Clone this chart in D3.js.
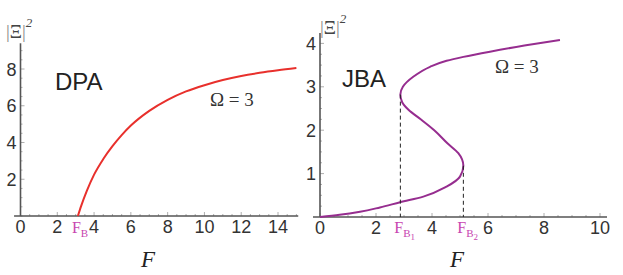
<!DOCTYPE html>
<html>
<head>
<meta charset="utf-8">
<script src="https://cdn.jsdelivr.net/npm/d3@7/dist/d3.min.js"></script>
<style>
  html, body { margin: 0; padding: 0; background: #fff; }
  svg { display: block; }
  .tick-label { font-family: "Liberation Sans", Arial, sans-serif; font-size: 18px; fill: #333; }
  .serif { font-family: "Liberation Serif", "Times New Roman", serif; }
</style>
</head>
<body>
<svg id="chart"></svg>
<script>
// ─── Data ─────────────────────────────────────────────────────────────────────
// DPA response curve: F vs |Ξ|²
const dpaF  = [3.12, 3.3, 3.6, 4.0, 4.5, 5.0, 5.5, 6.0, 7.0, 8.0, 9.0, 10, 11, 12, 13, 14, 15];
const dpaXi = [0, 0.55, 1.35, 2.25, 3.1, 3.8, 4.4, 4.92, 5.72, 6.32, 6.78, 7.12, 7.4, 7.62, 7.79, 7.93, 8.05];

// JBA response curve (S-shaped); F read at increasing |Ξ|²
const jbaXi = [0, 0.05, 0.12, 0.22, 0.34, 0.47, 0.70, 0.93, 1.18, 1.47, 1.70, 2.0,
               2.24, 2.47, 2.65, 2.82, 3.0, 3.23, 3.46, 3.60, 3.69, 3.81, 3.95, 4.08];
const jbaF  = [0, 0.7, 1.43, 2.14, 2.86, 3.69, 4.52, 5.0, 5.12, 4.94, 4.55, 4.08,
               3.62, 3.16, 2.93, 2.87, 2.96, 3.33, 3.93, 4.52, 5.12, 6.07, 7.3, 8.57];

// Bifurcation points
const dpaFB = 3.12;
const jbaFB1 = [2.87, 2.82];
const jbaFB2 = [5.12, 1.18];

// Tick values
const dpaXTicks = [0, 2, 4, 6, 8, 10, 12, 14];
const dpaYTicks = [2, 4, 6, 8];
const jbaXTicks = [0, 2, 4, 6, 8, 10];
const jbaYTicks = [1, 2, 3, 4];

// ─── Setup ────────────────────────────────────────────────────────────────────
const W = 623, H = 275;
const svg = d3.select("#chart").attr("width", W).attr("height", H);

const panels = [
  {
    x: d3.scaleLinear().domain([0, 14]).range([20.5, 278]),
    y: d3.scaleLinear().domain([0, 8]).range([216, 69]),
    xExtent: [-0.35, 15.1], yTop: 9.4,
    xTicks: dpaXTicks, yTicks: dpaYTicks, minorX: 0.5, minorY: 0.5,
    pts: dpaF.map((f, i) => [f, dpaXi[i]]), curve: d3.curveMonotoneX,
    color: "#e8302c",
    name: "DPA", nameAt: [55, 90], omegaAt: [210, 106],
    yLabelAt: [6, 38], fLabelX: 148
  },
  {
    x: d3.scaleLinear().domain([0, 10]).range([320, 600]),
    y: d3.scaleLinear().domain([0, 4]).range([217, 43.4]),
    xExtent: [-0.25, 10.25], yTop: 4.24,
    xTicks: jbaXTicks, yTicks: jbaYTicks, minorX: 0.5, minorY: 0.25,
    pts: jbaF.map((f, i) => [f, jbaXi[i]]), curve: d3.curveMonotoneY,
    color: "#962d8f",
    name: "JBA", nameAt: [342, 87], omegaAt: [495, 73],
    yLabelAt: [320, 34], fLabelX: 457
  }
];

const magenta = "#c845b0";

function drawPanel(p) {
  const g = svg.append("g");
  const x0 = p.x(0), y0 = p.y(0);

  // minor / major ticks pointing inward
  const ticksG = g.append("g").attr("stroke", "#999").attr("stroke-width", 0.8);
  d3.range(0, p.xExtent[1], p.minorX).forEach(v => {
    const major = p.xTicks.includes(v);
    ticksG.append("line")
      .attr("x1", p.x(v)).attr("x2", p.x(v))
      .attr("y1", y0).attr("y2", y0 - (major ? 4 : 2));
  });
  d3.range(0, p.yTop, p.minorY).forEach(v => {
    const major = p.yTicks.includes(v);
    ticksG.append("line")
      .attr("x1", x0).attr("x2", x0 + (major ? 4 : 2))
      .attr("y1", p.y(v)).attr("y2", p.y(v));
  });

  // axes lines
  g.append("line")
    .attr("x1", p.x(p.xExtent[0])).attr("x2", p.x(p.xExtent[1]))
    .attr("y1", y0).attr("y2", y0)
    .attr("stroke", "#555").attr("stroke-width", 1.6);
  g.append("line")
    .attr("x1", x0).attr("x2", x0)
    .attr("y1", y0).attr("y2", p.y(p.yTop))
    .attr("stroke", "#555").attr("stroke-width", 1.6);

  // tick labels
  g.selectAll("text.xt").data(p.xTicks).join("text")
    .attr("class", "tick-label xt")
    .attr("x", d => p.x(d)).attr("y", y0 + 17)
    .attr("text-anchor", "middle")
    .text(d => d);
  g.selectAll("text.yt").data(p.yTicks).join("text")
    .attr("class", "tick-label yt")
    .attr("x", x0 - 4).attr("y", d => p.y(d) + 6.5)
    .attr("text-anchor", "end")
    .text(d => d);

  // curve
  g.append("path")
    .attr("d", d3.line().x(d => p.x(d[0])).y(d => p.y(d[1])).curve(p.curve)(p.pts))
    .attr("fill", "none")
    .attr("stroke", p.color)
    .attr("stroke-width", 2);

  // panel name
  g.append("text")
    .attr("x", p.nameAt[0]).attr("y", p.nameAt[1])
    .attr("font-family", "Liberation Sans, Arial, sans-serif")
    .attr("font-size", 24).attr("fill", "#222")
    .text(p.name);

  // Ω = 3
  g.append("text").attr("class", "serif")
    .attr("x", p.omegaAt[0]).attr("y", p.omegaAt[1])
    .attr("font-size", 19).attr("fill", "#333")
    .text("Ω = 3");

  // |Ξ|² label
  const yl = g.append("text").attr("class", "serif")
    .attr("x", p.yLabelAt[0]).attr("y", p.yLabelAt[1])
    .attr("font-size", 19).attr("fill", "#444");
  yl.append("tspan").attr("fill", "#888").text("|");
  yl.append("tspan").text("Ξ");
  yl.append("tspan").attr("fill", "#888").text("|");
  yl.append("tspan").attr("dy", -11).attr("font-size", 13)
    .attr("font-style", "italic").text("2");

  // F axis label
  g.append("text").attr("class", "serif")
    .attr("x", p.fLabelX).attr("y", 267)
    .attr("text-anchor", "middle")
    .attr("font-size", 23).attr("font-style", "italic").attr("fill", "#222")
    .text("F");

  return g;
}

function bifLabel(g, px, py, sub) {
  const t = g.append("text").attr("class", "serif")
    .attr("x", px - 6).attr("y", py)
    .attr("font-size", 16).attr("fill", magenta);
  t.append("tspan").text("F");
  t.append("tspan").attr("dy", 4).attr("font-size", 11).text("B");
  if (sub) t.append("tspan").attr("dy", 3).attr("font-size", 9).text(sub);
}

const gL = drawPanel(panels[0]);
const gR = drawPanel(panels[1]);

// DPA bifurcation label
bifLabel(gL, panels[0].x(dpaFB), 233, null);

// JBA dashed lines + labels
[[jbaFB1, "1"], [jbaFB2, "2"]].forEach(([pt, s]) => {
  const p = panels[1];
  gR.append("line")
    .attr("x1", p.x(pt[0])).attr("x2", p.x(pt[0]))
    .attr("y1", p.y(pt[1])).attr("y2", p.y(0))
    .attr("stroke", "#222").attr("stroke-width", 1)
    .attr("stroke-dasharray", "4,3");
  bifLabel(gR, p.x(pt[0]), 233, s);
});
</script>
</body>
</html>
